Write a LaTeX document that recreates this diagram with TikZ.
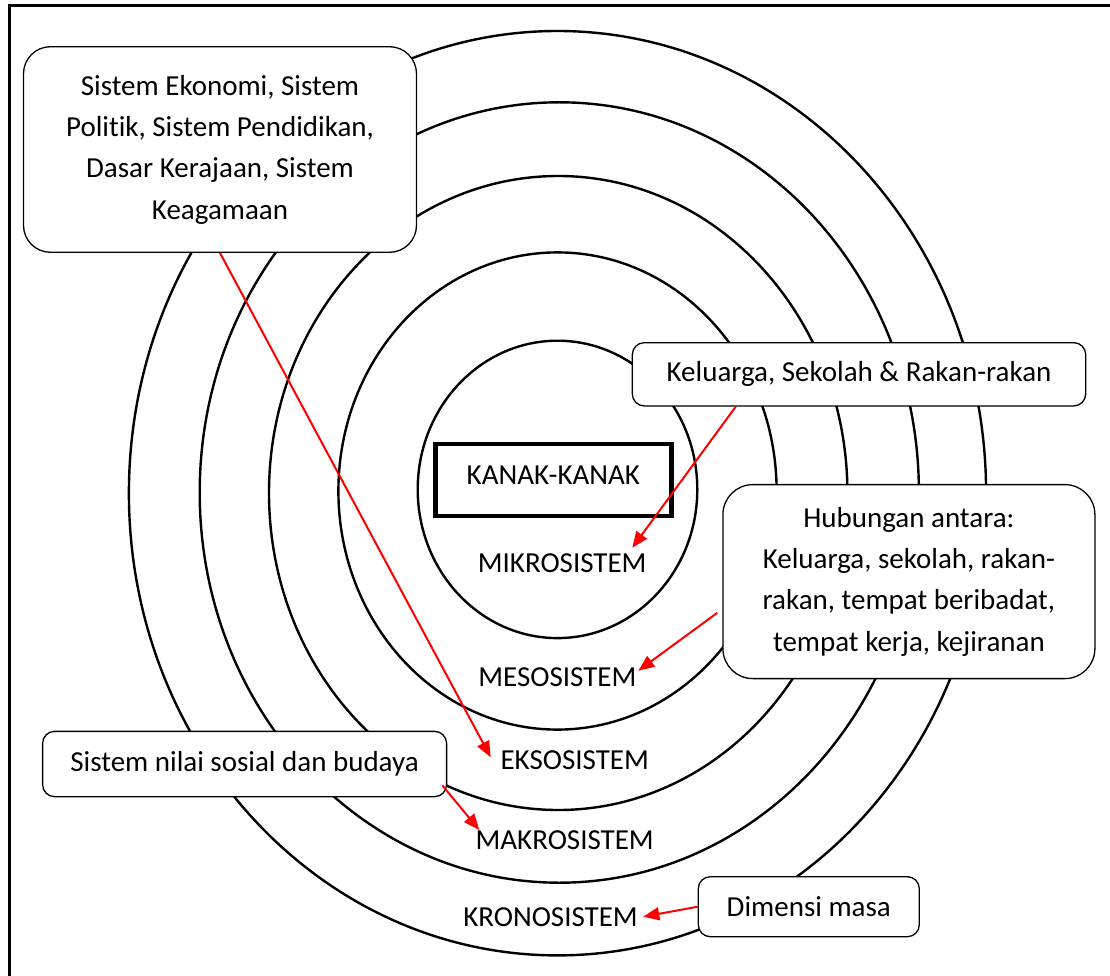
\documentclass[tikz,border=0pt]{standalone}
\usepackage{fontspec}
\setmainfont[Ligatures=NoCommon]{Carlito}
\usetikzlibrary{arrows.meta,calc}
\begin{document}
\begin{tikzpicture}[x=1pt,y=-1pt,
  font=\fontsize{29}{41.3}\selectfont,
  ring/.style={draw=black,line width=2.4pt},
  callout/.style={draw=black,line width=1.3pt,fill=white,rounded corners=#1,
    inner sep=0pt,align=center},
  lbl/.style={anchor=base,inner sep=0pt},
  pointer/.style={draw=red,line width=2pt,
    -{Triangle[length=16pt,width=13pt]}}
]
\useasboundingbox (0,0) rectangle (1110,976);

% page frame
\draw[line width=3pt] (9,990) -- (9,6) -- (1120,6);

% nested system rings
\draw[ring] (557.5,493.2) ellipse [x radius=428.6pt, y radius=462.2pt];
\draw[ring] (559.3,492.5) ellipse [x radius=359.6pt, y radius=390.2pt];
\draw[ring] (558.2,493.0) ellipse [x radius=289.2pt, y radius=317pt];
\draw[ring] (557.5,491.0) ellipse [x radius=219.1pt, y radius=238.6pt];
\draw[ring] (557.5,489.4) ellipse [x radius=139.8pt, y radius=148.7pt];

% centre
\node[draw=black,line width=4.7pt,minimum width=236pt,minimum height=72pt,inner sep=0pt]
  (child) at (553.6,480) {};
\node[lbl] (childtxt) at (553.3,484) {KANAK-KANAK};

% system labels
\node[lbl] (mikro) at (562.2,572.7) {MIKROSISTEM};
\node[lbl] (meso)  at (557.4,686) {MESOSISTEM};
\node[lbl] (ekso)  at (574.7,769) {EKSOSISTEM};
\node[lbl] (makro) at (564.7,849.3) {MAKROSISTEM};
\node[lbl] (krono) at (550.5,926.7) {KRONOSISTEM};

% callouts
\node[callout=27pt,minimum width=393pt,minimum height=205.6pt] (tl) at (220,149.5)
  {Sistem Ekonomi, Sistem\\Politik, Sistem Pendidikan,\\Dasar Kerajaan, Sistem\\Keagamaan};
\node[callout=12pt,minimum width=453.4pt,minimum height=63.3pt] (kel) at (859,374.3)
  {Keluarga, Sekolah \& Rakan-rakan};
\node[callout=30pt,minimum width=372pt,minimum height=194pt] (hub) at (908.9,581.6)
  {Hubungan antara:\\Keluarga, sekolah, rakan-\\rakan, tempat beribadat,\\tempat kerja, kejiranan};
\node[callout=12pt,minimum width=404pt,minimum height=65.3pt] (snb) at (244.6,764)
  {Sistem nilai sosial dan budaya};
\node[callout=12pt,minimum width=221pt,minimum height=60pt] (dim) at (808.8,906.7)
  {Dimensi masa};

% arrow targets
\coordinate (tMikro) at (632.3,547.7);
\coordinate (tMeso)  at (638.3,670.7);
\coordinate (tEkso)  at (490.7,757.3);
\coordinate (tMakro) at (479.3,830);
\coordinate (tKrono) at (643.3,916.7);

% pointers
\draw[pointer] (tl.south) -- (tEkso);
\draw[pointer] ($(kel.south west)!0.229!(kel.south east)$) -- (tMikro);
\draw[pointer] ($(hub.north west)!0.66!(hub.south west)+(-5,0)$) -- (tMeso);
\draw[pointer] ($(snb.north east)!0.82!(snb.south east)+(-5,0)$) -- (tMakro);
\draw[pointer] (dim.west) -- (tKrono);
\end{tikzpicture}
\end{document}
